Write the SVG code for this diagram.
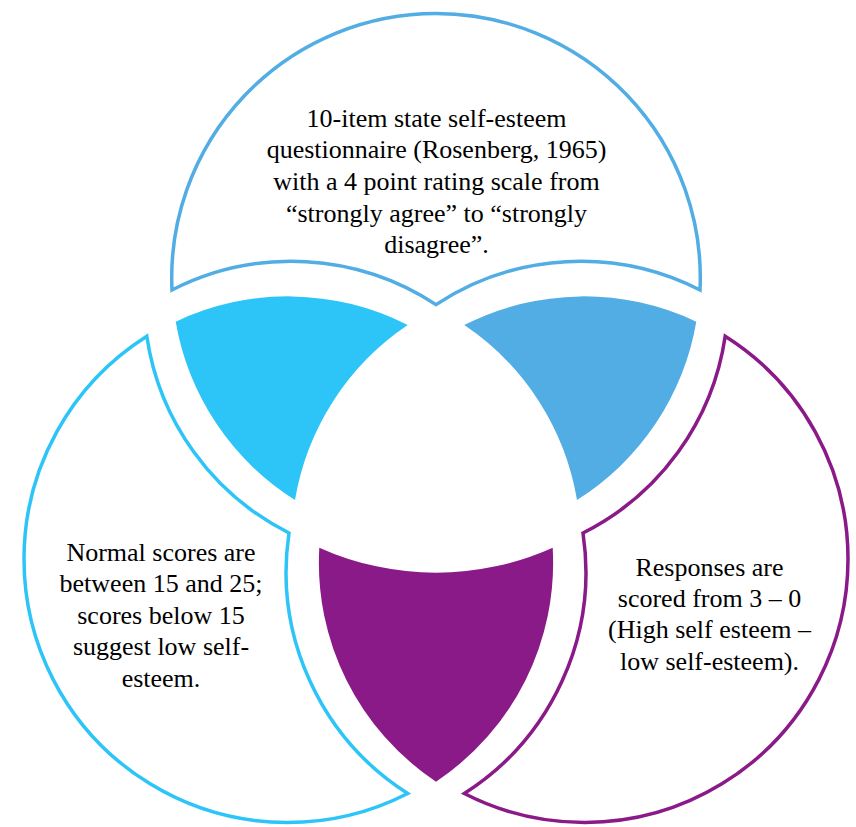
<svg xmlns="http://www.w3.org/2000/svg" width="856" height="827" viewBox="0 0 856 827">
<defs>
<style>
.outline{fill:#ffffff;stroke-width:3.5;stroke-linejoin:miter;stroke-miterlimit:10}
.t{font-size:26px;fill:#000000;text-anchor:middle}
</style>
</defs>
<rect x="0" y="0" width="856" height="827" fill="#ffffff"/>
<g id="lens-top-left">
<path d="M175.7,321.7 A263,263 0 0,1 407.7,325 A263,263 0 0,0 295,500 A263,263 0 0,1 175.7,321.7 Z" fill="#2DC5F8"/>
</g>
<g id="lens-top-right">
<path d="M696.3,321.7 A263,263 0 0,0 464.3,325 A263,263 0 0,1 577,500 A263,263 0 0,0 696.3,321.7 Z" fill="#51ADE3"/>
</g>
<g id="lens-bottom">
<path d="M319.3,547.7 A285,285 0 0,0 552.7,547.7 A263,263 0 0,1 436,781.7 A263,263 0 0,1 319.3,547.7 Z" fill="#8B1A89"/>
</g>
<g id="top" font-family="'Liberation Serif', 'DejaVu Serif', serif">
<path class="outline" stroke="#51ADE3" d="M172,290 A264.3,264.3 0 0,1 436,13.5 A264.3,264.3 0 0,1 700,290 A263,263 0 0,0 436,304.6 A263,263 0 0,0 172,290 Z"/>
<text class="t" x="436.5" y="126.7">10-item state self-esteem</text>
<text class="t" x="436.5" y="158.3">questionnaire (Rosenberg, 1965)</text>
<text class="t" x="436.5" y="190">with a 4 point rating scale from</text>
<text class="t" x="436.5" y="221.6">“strongly agree” to “strongly</text>
<text class="t" x="436.5" y="253.3">disagree”.</text>
</g>
<g id="left" font-family="'Liberation Serif', 'DejaVu Serif', serif">
<path class="outline" stroke="#2DC5F8" d="M146.8,336.2 A263,263 0 0,0 289,533 A263,263 0 0,0 407.7,793.5 A263.5,263.5 0 0,1 24,559 A263.5,263.5 0 0,1 146.8,336.2 Z"/>
<text class="t" x="161" y="560.7">Normal scores are</text>
<text class="t" x="161" y="592.2">between 15 and 25;</text>
<text class="t" x="161" y="623.7">scores below 15</text>
<text class="t" x="161" y="655.2">suggest low self-</text>
<text class="t" x="161" y="686.7">esteem.</text>
</g>
<g id="right" font-family="'Liberation Serif', 'DejaVu Serif', serif">
<path class="outline" stroke="#8B1A89" d="M725.2,336.2 A263,263 0 0,1 583,533 A263,263 0 0,1 464.3,793.5 A263.5,263.5 0 0,0 848,559 A263.5,263.5 0 0,0 725.2,336.2 Z"/>
<text class="t" x="709.5" y="576">Responses are</text>
<text class="t" x="709.5" y="607.2">scored from 3 – 0</text>
<text class="t" x="709.5" y="638.4">(High self esteem –</text>
<text class="t" x="709.5" y="669.6">low self-esteem).</text>
</g>
</svg>
